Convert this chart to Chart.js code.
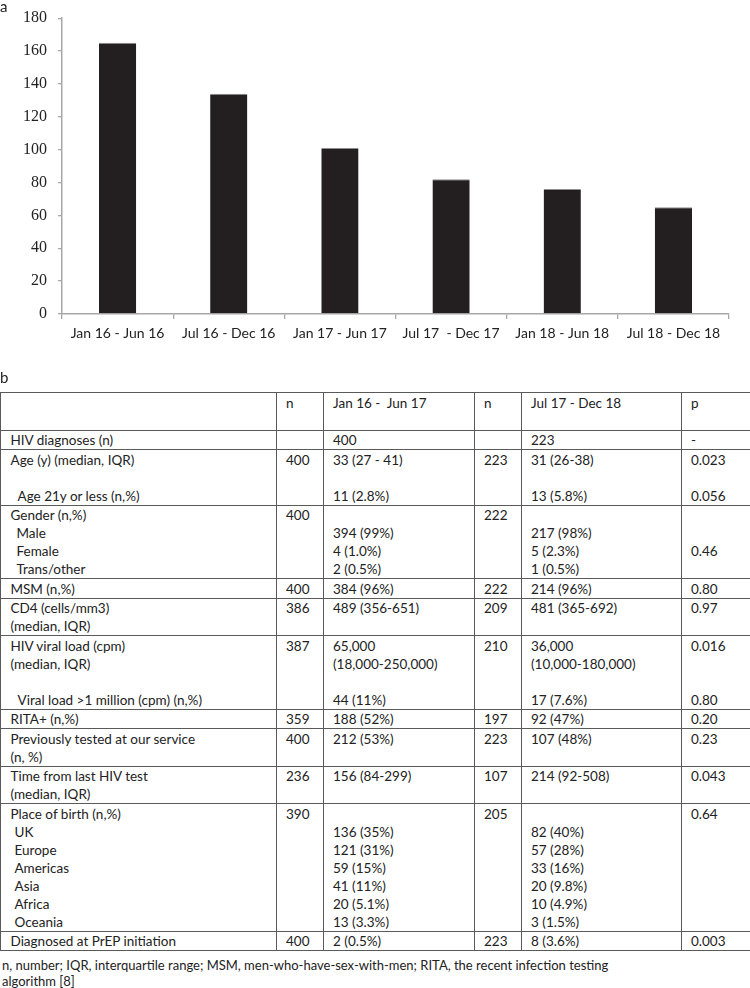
<!DOCTYPE html>
<html><head><meta charset="utf-8">
<script src="https://cdn.jsdelivr.net/npm/chart.js@4/dist/chart.umd.min.js"></script>
<style>
html,body{margin:0;padding:0;background:#fff;width:750px;height:988px;overflow:hidden;position:relative;font-family:Lato,"Liberation Sans",sans-serif;color:#222}
#chartBox{position:absolute;left:0;top:0;width:750px;height:350px}
.panel{position:absolute;left:0;font-family:Lato,sans-serif;font-size:15px;color:#222;line-height:18px}
#la{top:-3px}
#lb{top:368px}
table{position:absolute;left:0;top:392px;border-collapse:collapse;table-layout:fixed;width:750px;font-size:13.5px;line-height:18px}
td{border:1px solid #5a5a5a;padding:0.5px 2px 0 9px;vertical-align:top;white-space:nowrap;overflow:hidden}
td.c0{padding-left:9.5px}
.i7{padding-left:7px}.i6{padding-left:6px}.i4{padding-left:4px}
#foot{position:absolute;left:2px;top:957px;font-size:13px;line-height:16px;white-space:nowrap}
</style></head>
<body>
<div id="chartBox"><canvas id="c" width="750" height="350"></canvas></div>
<div class="panel" id="la">a</div>
<div class="panel" id="lb">b</div>
<table>
<colgroup><col style="width:276px"><col style="width:47px"><col style="width:151px"><col style="width:47px"><col style="width:160px"><col style="width:69px"></colgroup>
<tr><td class="c0"><br>&nbsp;</td><td>n</td><td>Jan 16 -&nbsp; Jun 17</td><td>n</td><td>Jul 17 - Dec 18</td><td>p</td></tr>
<tr><td class="c0">HIV diagnoses (n)</td><td></td><td>400</td><td></td><td>223</td><td>-</td></tr>
<tr><td class="c0">Age (y) (median, IQR)<br><br><span class="i7">Age 21y or less (n,%)</span></td><td>400</td><td>33 (27 - 41)<br><br>11 (2.8%)</td><td>223</td><td>31 (26-38)<br><br>13 (5.8%)</td><td>0.023<br><br>0.056</td></tr>
<tr><td class="c0">Gender (n,%)<br><span class="i6">Male</span><br><span class="i6">Female</span><br><span class="i6">Trans/other</span></td><td>400</td><td><br>394 (99%)<br>4 (1.0%)<br>2 (0.5%)</td><td>222</td><td><br>217 (98%)<br>5 (2.3%)<br>1 (0.5%)</td><td><br><br>0.46</td></tr>
<tr><td class="c0">MSM (n,%)</td><td>400</td><td>384 (96%)</td><td>222</td><td>214 (96%)</td><td>0.80</td></tr>
<tr><td class="c0">CD4 (cells/mm3)<br>(median, IQR)</td><td>386</td><td>489 (356-651)</td><td>209</td><td>481 (365-692)</td><td>0.97</td></tr>
<tr><td class="c0">HIV viral load (cpm)<br>(median, IQR)<br><br><span class="i7">Viral load &gt;1 million (cpm) (n,%)</span></td><td>387</td><td>65,000<br>(18,000-250,000)<br><br>44 (11%)</td><td>210</td><td>36,000<br>(10,000-180,000)<br><br>17 (7.6%)</td><td>0.016<br><br><br>0.80</td></tr>
<tr><td class="c0">RITA+ (n,%)</td><td>359</td><td>188 (52%)</td><td>197</td><td>92 (47%)</td><td>0.20</td></tr>
<tr><td class="c0">Previously tested at our service<br>(n, %)</td><td>400</td><td>212 (53%)</td><td>223</td><td>107 (48%)</td><td>0.23</td></tr>
<tr><td class="c0">Time from last HIV test<br>(median, IQR)</td><td>236</td><td>156 (84-299)</td><td>107</td><td>214 (92-508)</td><td>0.043</td></tr>
<tr><td class="c0">Place of birth (n,%)<br><span class="i4">UK</span><br><span class="i4">Europe</span><br><span class="i4">Americas</span><br><span class="i4">Asia</span><br><span class="i4">Africa</span><br><span class="i4">Oceania</span></td><td>390</td><td><br>136 (35%)<br>121 (31%)<br>59 (15%)<br>41 (11%)<br>20 (5.1%)<br>13 (3.3%)</td><td>205</td><td><br>82 (40%)<br>57 (28%)<br>33 (16%)<br>20 (9.8%)<br>10 (4.9%)<br>3 (1.5%)</td><td>0.64</td></tr>
<tr><td class="c0">Diagnosed at PrEP initiation</td><td>400</td><td>2 (0.5%)</td><td>223</td><td>8 (3.6%)</td><td>0.003</td></tr>
</table>
<div id="foot">n, number; IQR, interquartile range; MSM, men-who-have-sex-with-men; RITA, the recent infection testing<br>algorithm [8]</div>
<script>
const categories = ["Jan 16 - Jun 16", "Jul 16 - Dec 16", "Jan 17 - Jun 17", "Jul 17  - Dec 17", "Jan 18 - Jun 18", "Jul 18 - Dec 18"];
const diagnoses = [165, 134, 101, 82, 76, 65];
const yTickValues = [0, 20, 40, 60, 80, 100, 120, 140, 160, 180];

new Chart(document.getElementById('c').getContext('2d'), {
  type: 'bar',
  data: {
    labels: categories,
    datasets: [{
      data: diagnoses,
      backgroundColor: '#231f20',
      borderColor: '#8e8e8e',
      borderWidth: {top: 1, left: 0, right: 0, bottom: 0},
      borderSkipped: 'bottom',
      categoryPercentage: 1,
      barPercentage: 0.335
    }]
  },
  options: {
    responsive: false,
    animation: false,
    devicePixelRatio: 1,
    layout: {padding: {top: 7, right: 21, left: 0, bottom: 0}},
    plugins: {legend: {display: false}, tooltip: {enabled: false}},
    scales: {
      x: {
        grid: {drawOnChartArea: false, drawTicks: true, tickLength: 5, color: '#a8a8a8', lineWidth: 1.3, offset: true},
        border: {color: '#a8a8a8', width: 1.5},
        ticks: {font: {family: 'Lato, sans-serif', size: 14}, color: '#222', padding: 6, maxRotation: 0, autoSkip: false},
        afterFit(s) { s.height = 36; }
      },
      y: {
        min: 0, max: 180,
        afterBuildTicks(s) { s.ticks = yTickValues.map(v => ({value: v})); },
        grid: {drawOnChartArea: false, drawTicks: true, tickLength: 4, color: '#a8a8a8', lineWidth: 1.3},
        border: {color: '#a8a8a8', width: 1.5},
        ticks: {font: {family: '"Liberation Serif", serif', size: 16, lineHeight: 0.9}, color: '#222', padding: 11},
        afterFit(s) { s.width = 62; }
      }
    }
  }
});
</script>
</body></html>
